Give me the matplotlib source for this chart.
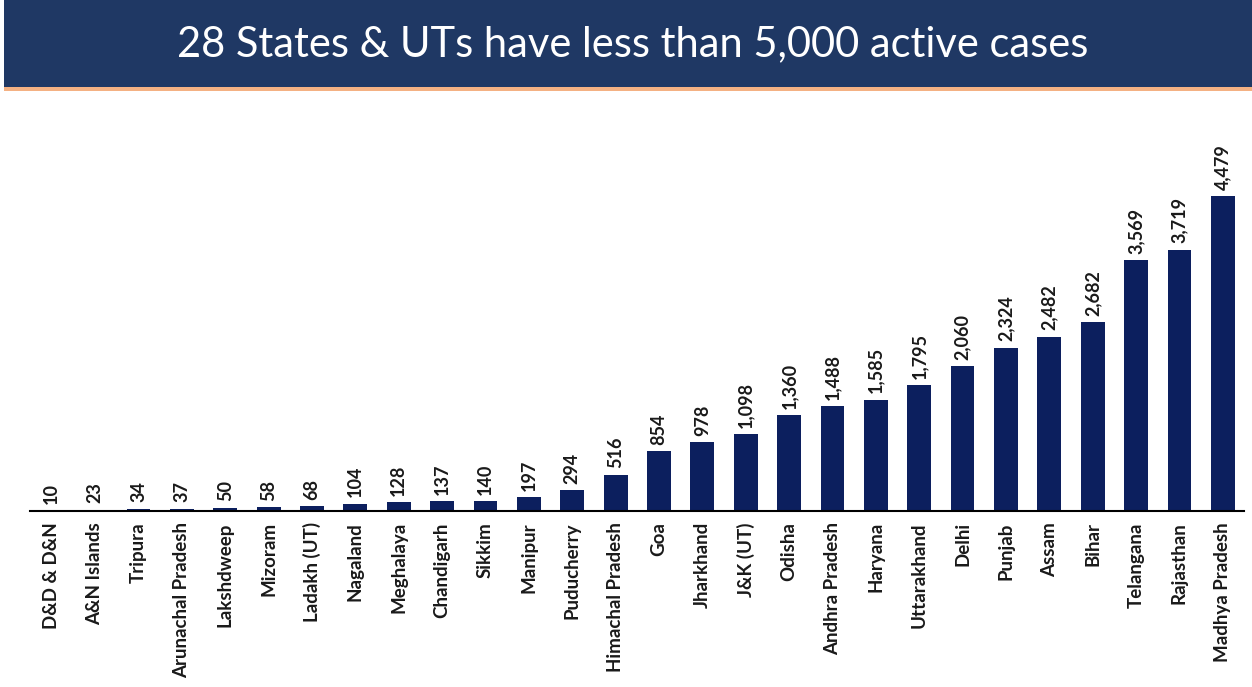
import matplotlib.pyplot as plt
from matplotlib.patches import Rectangle

states = ["D&D & D&N", "A&N Islands", "Tripura", "Arunachal Pradesh", "Lakshdweep",
          "Mizoram", "Ladakh (UT)", "Nagaland", "Meghalaya", "Chandigarh", "Sikkim",
          "Manipur", "Puducherry", "Himachal Pradesh", "Goa", "Jharkhand", "J&K (UT)",
          "Odisha", "Andhra Pradesh", "Haryana", "Uttarakhand", "Delhi", "Punjab",
          "Assam", "Bihar", "Telangana", "Rajasthan", "Madhya Pradesh"]
active_cases = [10, 23, 34, 37, 50, 58, 68, 104, 128, 137, 140, 197, 294, 516, 854,
                978, 1098, 1360, 1488, 1585, 1795, 2060, 2324, 2482, 2682, 3569,
                3719, 4479]

title = "28 States & UTs have less than 5,000 active cases"

plt.rcParams['font.family'] = ['Lato', 'DejaVu Sans']

fig = plt.figure(figsize=(12.52, 6.87), dpi=100)

# title banner
fig.patches.append(Rectangle((0.003, 0.874), 0.997, 0.126, transform=fig.transFigure,
                             facecolor="#1f3864", edgecolor="none"))
fig.patches.append(Rectangle((0.003, 0.868), 0.997, 0.006, transform=fig.transFigure,
                             facecolor="#f4b183", edgecolor="none"))
fig.text(0.505, 0.936, title, color="white", fontsize=30, ha="center", va="center")

ax = fig.add_axes([0.024, 0.256, 0.970, 0.512])
x = range(len(states))
ax.bar(x, active_cases, width=0.55, color="#0c1f5e")
ax.set_xlim(-0.5, len(states) - 0.5)
ax.set_ylim(0, 5000)

for xi, v in zip(x, active_cases):
    ax.text(xi, v + 90, f"{v:,}", rotation=90, ha="center", va="bottom",
            fontsize=13, fontweight="bold", color="#1a1a1a", clip_on=False)

ax.set_xticks(list(x))
ax.set_xticklabels(states, rotation=90, fontsize=13.5, fontweight="bold", color="#1a1a1a")
ax.tick_params(axis="x", length=0, pad=8)
ax.set_yticks([])
for side in ["top", "right", "left"]:
    ax.spines[side].set_visible(False)
ax.spines["bottom"].set_linewidth(1.5)

fig.savefig("out.png", dpi=100)
